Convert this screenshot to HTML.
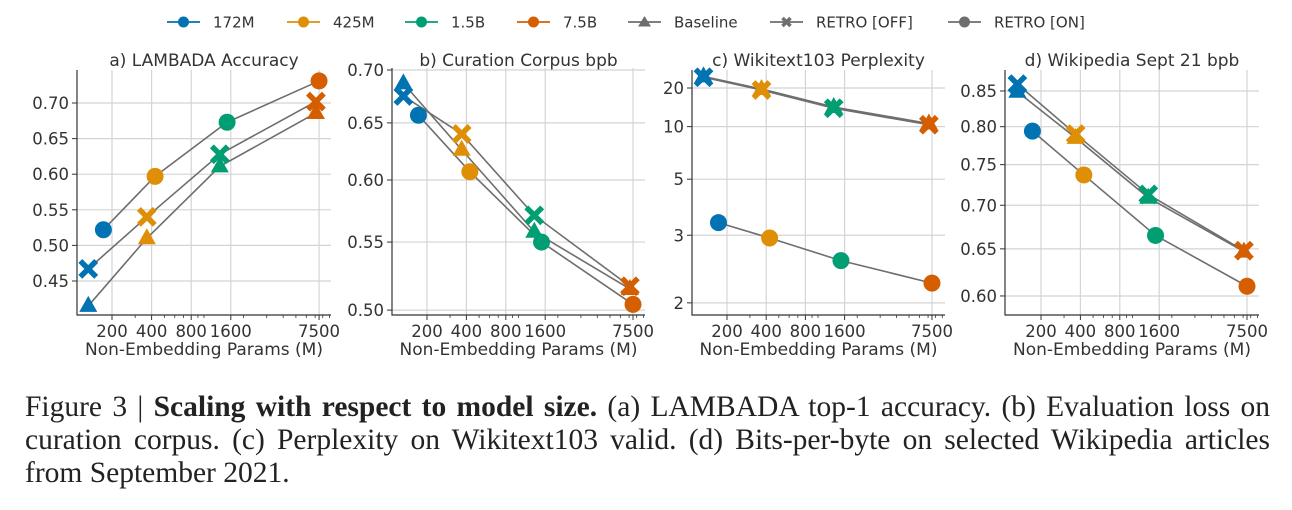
<!DOCTYPE html>
<html><head><meta charset="utf-8">
<style>
html,body{margin:0;padding:0;background:#fff;}
body{width:1292px;height:510px;overflow:hidden;position:relative;font-family:"DejaVu Sans","Liberation Sans",sans-serif;}
#cap{position:absolute;left:25px;top:391px;width:1245px;font-family:"Liberation Serif",serif;font-size:29.5px;line-height:33px;color:#222;}
#cap div{text-align:justify;text-align-last:justify;white-space:nowrap;}
#cap div.last{text-align-last:left;}
</style></head><body>
<svg id="fig" width="1292" height="380" style="position:absolute;left:0;top:0" font-family="DejaVu Sans, Liberation Sans, sans-serif"></svg>
<div id="cap">
<div>Figure 3 | <b>Scaling with respect to model size.</b> (a) LAMBADA top-1 accuracy. (b) Evaluation loss on</div>
<div>curation corpus. (c) Perplexity on Wikitext103 valid. (d) Bits-per-byte on selected Wikipedia articles</div>
<div class="last">from September 2021.</div>
</div>
<script>
// data
const sizes = ['172M','425M','1.5B','7.5B'];
const paramsOn = [172,425,1500,7500];
const paramsBase = [132,368,1320,7100];
const lambadaBase = [0.415,0.510,0.611,0.686];
const lambadaOff = [0.467,0.540,0.628,0.702];
const lambadaOn = [0.522,0.597,0.673,0.731];
const curationBase = [0.687,0.626,0.558,0.515];
const curationOff = [0.675,0.640,0.571,0.517];
const curationOn = [0.657,0.607,0.550,0.504];
const wikitextBase = [25.6,19.6,13.9,10.5];
const wikitextOff = [25.1,19.2,13.6,10.3];
const wikitextOn = [3.31,2.94,2.52,2.21];
const wikiBase = [0.849,0.785,0.709,0.647];
const wikiOff = [0.860,0.790,0.713,0.648];
const wikiOn = [0.794,0.737,0.665,0.610];
const xTicks = [200,400,800,1600,7500];
const aTicks = [0.45,0.50,0.55,0.60,0.65,0.70];
const bTicks = [0.50,0.55,0.60,0.65,0.70];
const cTicks = [2,3,5,10,20];
const dTicks = [0.60,0.65,0.70,0.75,0.80,0.85];

const colors = ['#0173b2','#de8f05','#029e73','#d55e00'];
const NS='http://www.w3.org/2000/svg';
const svg=document.getElementById('fig');
function mk(tag,attrs,parent){const e=document.createElementNS(NS,tag);for(const k in attrs)e.setAttribute(k,attrs[k]);(parent||svg).appendChild(e);return e;}

const panels=[
 {id:'a',title:'a) LAMBADA Accuracy',L:77,R:331,T:70,B:315,x200:112,ppd:39.6,
  y:v=>103+(0.70-v)/0.05*35.6,ticks:aTicks,fmt:v=>v.toFixed(2),base:lambadaBase,off:lambadaOff,on:lambadaOn},
 {id:'b',title:'b) Curation Corpus bpb',L:392,R:645,T:68,B:315,x200:427,ppd:39.4,
  y:v=>70+(Math.log10(0.7)-Math.log10(v))*1643,ticks:bTicks,fmt:v=>v.toFixed(2),base:curationBase,off:curationOff,on:curationOn},
 {id:'c',title:'c) Wikitext103 Perplexity',L:692,R:945,T:70,B:315,x200:727,ppd:39.2,
  y:v=>88+(Math.log10(Math.log(20))-Math.log10(Math.log(v)))*338,ticks:cTicks,fmt:v=>String(v),base:wikitextBase,off:wikitextOff,on:wikitextOn},
 {id:'d',title:'d) Wikipedia Sept 21 bpb',L:1005,R:1259,T:70,B:315,x200:1041,ppd:39.4,
  y:v=>91+(Math.log10(0.85)-Math.log10(v))*1355,ticks:dTicks,fmt:v=>v.toFixed(2),base:wikiBase,off:wikiOff,on:wikiOn}
];
const minor=[300,500,600,700,900,1000,2000,3000,4000,5000,6000,7000,8000,9000];

function marker(g,type,x,y,c){
  let e;
  if(type==='o'){e=mk('circle',{cx:x,cy:y,r:8.5,fill:c},g);}
  else if(type==='^'){e=mk('path',{d:`M${x},${y-10} L${x+9},${y+6} L${x-9},${y+6} Z`,fill:c},g);}
  else {e=mk('path',{d:`M${x-6},${y-6} L${x+6},${y+6} M${x+6},${y-6} L${x-6},${y+6}`,stroke:c,'stroke-width':5.5,'stroke-linecap':'square',fill:'none'},g);}
  return e;
}

panels.forEach(p=>{
  const g=mk('g',{});
  
  
  const X=v=>p.x200+Math.log2(v/200)*p.ppd;
  xTicks.forEach(t=>{const l=mk('line',{x1:X(t),x2:X(t),y1:p.T,y2:p.B,stroke:'#d4d4d4','stroke-width':1.2},g);});
  p.ticks.forEach(t=>{const l=mk('line',{x1:p.L,x2:p.R,y1:p.y(t),y2:p.y(t),stroke:'#d4d4d4','stroke-width':1.2},g);});
  const sp=mk('path',{d:`M${p.L},${p.T} L${p.L},${p.B} L${p.R},${p.B}`,stroke:'#333','stroke-width':1.2,fill:'none'},g);
  
  xTicks.forEach(t=>{mk('line',{x1:X(t),x2:X(t),y1:p.B,y2:p.B+5,stroke:'#333','stroke-width':1},g);
    const tx=mk('text',{x:X(t),y:p.B+22,'font-size':16.5,fill:'#333','text-anchor':'middle'},g);tx.textContent=t;
    });
  minor.forEach(t=>{const x=X(t);if(x<p.R)mk('line',{x1:x,x2:x,y1:p.B,y2:p.B+3,stroke:'#333','stroke-width':0.8},g);});
  p.ticks.forEach(t=>{mk('line',{x1:p.L-5,x2:p.L,y1:p.y(t),y2:p.y(t),stroke:'#333','stroke-width':1},g);
    const tx=mk('text',{x:p.L-8,y:p.y(t)+6,'font-size':16.5,fill:'#333','text-anchor':'end'},g);tx.textContent=p.fmt(t);
    });
  const ti=mk('text',{x:(p.L+p.R)/2,y:66,'font-size':17,fill:'#333','text-anchor':'middle'},g);ti.textContent=p.title;
  
  const xl=mk('text',{x:(p.L+p.R)/2,y:355,'font-size':17,fill:'#333','text-anchor':'middle'},g);xl.textContent='Non-Embedding Params (M)';
  
  const series=[[p.base,paramsBase,'^','baseline'],[p.off,paramsBase,'x','retro-off'],[p.on,paramsOn,'o','retro-on']];
  series.forEach(s=>{
    const d=s[0].map((v,i)=>(i?'L':'M')+X(s[1][i])+','+p.y(v)).join(' ');
    const ln=mk('path',{d:d,stroke:'#6e6e6e','stroke-width':1.6,fill:'none'},g);
    
  });
  series.forEach(s=>{
    s[0].forEach((v,i)=>{const m=marker(g,s[2],X(s[1][i]),p.y(v),colors[i]);
      });
  });
});

// legend
const lg=mk('g',{});


const legendItems=[['172M',colors[0],'o',167],['425M',colors[1],'o',287],['1.5B',colors[2],'o',405],['7.5B',colors[3],'o',517],['Baseline','#6e6e6e','^',628],['RETRO [OFF]','#6e6e6e','x',770],['RETRO [ON]','#6e6e6e','o',948]];
legendItems.forEach(it=>{
  const x=it[3],y=22,cx=x+16.5;
  mk('line',{x1:x,x2:x+33,y1:y,y2:y,stroke:it[1],'stroke-width':1.8},lg);
  if(it[2]==='o')mk('circle',{cx:cx,cy:y,r:5.5,fill:it[1]},lg);
  else if(it[2]==='^')mk('path',{d:`M${cx},${y-6} L${cx+6.5},${y+4.5} L${cx-6.5},${y+4.5} Z`,fill:it[1]},lg);
  else mk('path',{d:`M${cx-4},${y-4} L${cx+4},${y+4} M${cx+4},${y-4} L${cx-4},${y+4}`,stroke:it[1],'stroke-width':3.5,fill:'none'},lg);
  const t=mk('text',{x:x+46,y:y+5.5,'font-size':15,fill:'#333'},lg);t.textContent=it[0];
  
});
</script>
</body></html>
